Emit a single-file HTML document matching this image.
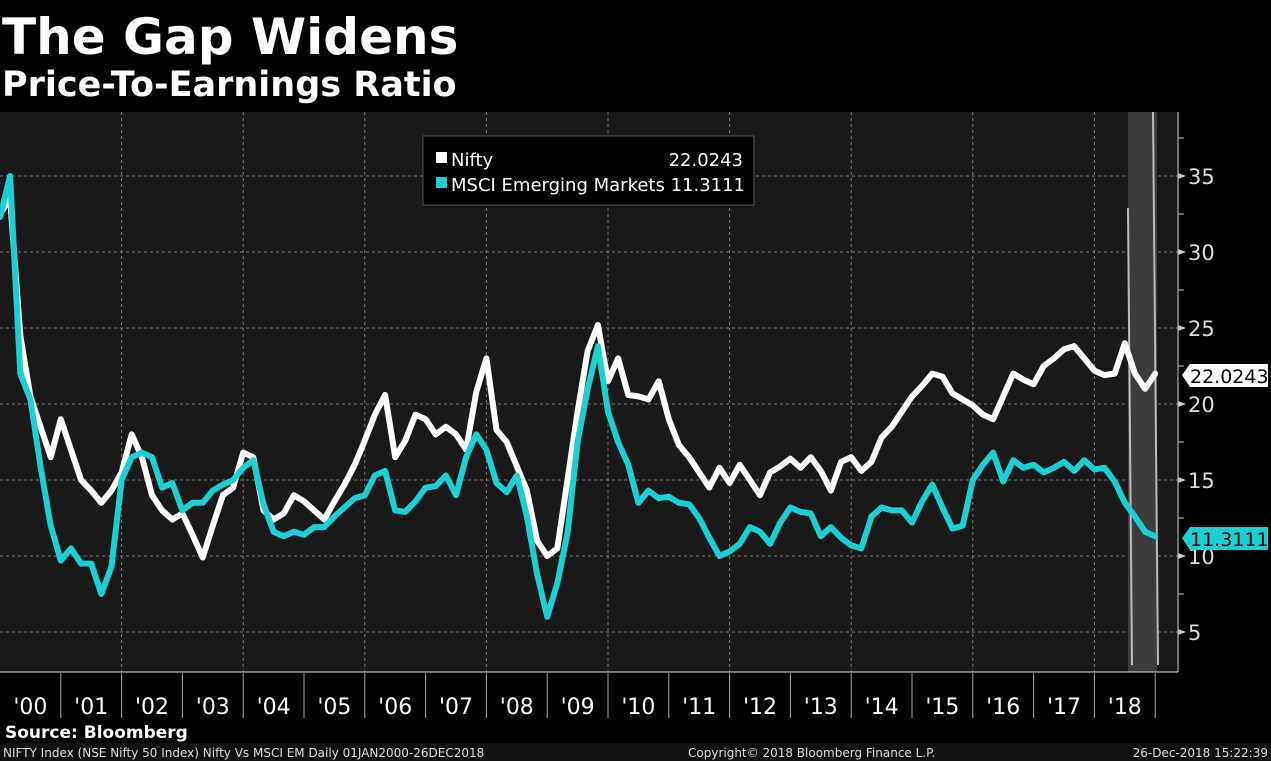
<!DOCTYPE html>
<html><head><meta charset="utf-8"><style>
body{margin:0;background:#000;width:1271px;height:761px;overflow:hidden;font-family:"DejaVu Sans","Liberation Sans",sans-serif;}
svg{display:block}
</style></head><body>
<svg id="chart" width="1271" height="761">
<rect x="0" y="0" width="1271" height="761" fill="#000"/>
<text x="2" y="54" fill="#fff" font-size="50" font-weight="bold" font-family="DejaVu Sans, sans-serif">The Gap Widens</text>
<text x="2" y="96" fill="#fff" font-size="35" font-weight="bold" font-family="DejaVu Sans, sans-serif">Price-To-Earnings Ratio</text>
<rect x="0" y="112" width="1178" height="560" fill="#191919"/>
<g id="grid"></g>
<rect x="1128" y="112" width="29" height="560" fill="#3c3c3c"/>
<line x1="1128" y1="208" x2="1132" y2="665" stroke="#bbb" stroke-width="2"/>
<line x1="1153" y1="112" x2="1158" y2="665" stroke="#bbb" stroke-width="2"/>
<g id="series"></g>
<line x1="1178" y1="112" x2="1178" y2="672" stroke="#ccc" stroke-width="1"/>
<g id="yaxis"></g>
<line x1="0" y1="672" x2="1178" y2="672" stroke="#ddd" stroke-width="1"/>
<g id="xaxis"></g>
<g>
<rect x="423" y="136" width="331" height="69" fill="#000" stroke="#555" stroke-width="1"/>
<rect x="436" y="152" width="11" height="11" fill="#fff"/>
<text x="451" y="166" fill="#fff" font-size="18" font-family="DejaVu Sans, sans-serif">Nifty</text>
<text x="743" y="166" fill="#fff" font-size="18" text-anchor="end" font-family="DejaVu Sans, sans-serif">22.0243</text>
<rect x="436" y="177" width="11" height="11" fill="#1ccfd2"/>
<text x="451" y="191" fill="#fff" font-size="18" font-family="DejaVu Sans, sans-serif">MSCI Emerging Markets 11.3111</text>
</g>
<g>
<polygon points="1182,375 1190,364 1268,364 1268,387 1190,387" fill="#fff"/>
<text x="1190" y="383" fill="#000" font-size="19" font-family="DejaVu Sans, sans-serif">22.0243</text>
</g>
<g>
<polygon points="1182,538 1190,527 1268,527 1268,550 1190,550" fill="#1ccfd2"/>
<text x="1190" y="546" fill="#000" font-size="19" font-family="DejaVu Sans, sans-serif">11.3111</text>
</g>
<text x="5" y="738" fill="#fff" font-size="17" font-weight="bold" font-family="DejaVu Sans, sans-serif">Source: Bloomberg</text>
<rect x="0" y="743" width="1271" height="18" fill="#111"/>
<text x="3" y="757" fill="#ddd" font-size="12" font-family="DejaVu Sans, sans-serif">NIFTY Index (NSE Nifty 50 Index) Nifty Vs MSCI EM  Daily 01JAN2000-26DEC2018</text>
<text x="688" y="757" fill="#ddd" font-size="12" font-family="DejaVu Sans, sans-serif">Copyright© 2018 Bloomberg Finance L.P.</text>
<text x="1268" y="757" fill="#ddd" font-size="12" text-anchor="end" font-family="DejaVu Sans, sans-serif">26-Dec-2018 15:22:39</text>
</svg>
<script>
const startYear = 2000;
const stepYears = 1/6;
const yearLabels = ["'00","'01","'02","'03","'04","'05","'06","'07","'08","'09","'10","'11","'12","'13","'14","'15","'16","'17","'18"];
const yTicks = [5,10,15,20,25,30,35];
const niftyValues = [32.5,33.5,24.5,20.5,18.5,16.5,19.0,17.0,15.0,14.3,13.5,14.3,15.5,18.0,16.5,14.0,13.0,12.4,12.8,11.4,9.9,12.0,14.0,14.5,16.8,16.5,13.0,12.4,12.8,14.0,13.6,13.0,12.4,13.6,14.7,16.0,17.6,19.3,20.6,16.5,17.6,19.3,19.0,18.0,18.5,18.0,17.0,20.8,23.0,18.3,17.5,15.9,14.3,11.0,10.0,10.5,15.0,19.5,23.5,25.2,21.5,23.0,20.6,20.5,20.3,21.5,19.0,17.3,16.5,15.5,14.5,15.8,14.8,16.0,15.0,14.0,15.5,15.9,16.4,15.8,16.5,15.6,14.3,16.2,16.5,15.6,16.2,17.8,18.5,19.5,20.5,21.2,22.0,21.8,20.7,20.3,19.9,19.3,19.0,20.5,22.0,21.6,21.3,22.5,23.0,23.6,23.8,23.0,22.2,21.9,22.0,24.0,22.0,21.0,22.0];
const msciValues = [32.3,35.0,22.0,20.3,15.9,12.0,9.7,10.5,9.5,9.5,7.5,9.3,15.0,16.5,16.8,16.5,14.5,14.8,13.0,13.5,13.5,14.3,14.7,15.0,15.8,16.3,13.4,11.6,11.3,11.6,11.4,11.9,11.9,12.6,13.2,13.8,14.0,15.3,15.6,13.0,12.9,13.6,14.5,14.6,15.3,14.0,16.5,18.0,17.0,14.8,14.2,15.3,12.6,8.8,6.0,8.2,11.5,17.5,21.0,23.8,19.5,17.5,16.0,13.5,14.3,13.8,13.9,13.5,13.4,12.5,11.2,10.0,10.3,10.8,11.9,11.6,10.8,12.2,13.2,12.9,12.8,11.3,11.9,11.2,10.7,10.5,12.6,13.2,13.0,13.0,12.2,13.6,14.7,13.2,11.8,12.0,15.0,16.0,16.8,14.9,16.3,15.8,16.0,15.5,15.8,16.2,15.6,16.3,15.7,15.8,14.9,13.5,12.6,11.6,11.3];

const NS = "http://www.w3.org/2000/svg";
const xOf = yr => (yr - 2000) * 60.8;
const yOf = v => 176 + (35 - v) * 15.2;
function mk(tag, attrs, parent){const e=document.createElementNS(NS,tag);for(const k in attrs)e.setAttribute(k,attrs[k]);parent.appendChild(e);return e;}

const grid = document.getElementById('grid');
yTicks.forEach(v=>{
  const l = mk('line',{x1:0,x2:1178,y1:yOf(v),y2:yOf(v),stroke:'#777','stroke-width':1,'stroke-dasharray':'3,3'},grid);
  
  
});
for(let k=2;k<=18;k+=2){
  const l = mk('line',{x1:xOf(2000+k),x2:xOf(2000+k),y1:112,y2:672,stroke:'#777','stroke-width':1,'stroke-dasharray':'3,3'},grid);
  
  
}

const yaxis = document.getElementById('yaxis');
yTicks.forEach(v=>{
  const t = mk('polygon',{points:`1178,${yOf(v)-3} 1186,${yOf(v)} 1178,${yOf(v)+3}`,fill:'#ccc'},yaxis);
  
  
  const m = mk('line',{x1:1178,x2:1184,y1:yOf(v+2.5),y2:yOf(v+2.5),stroke:'#ccc'},yaxis);
  
  
  const tx = mk('text',{x:1188,y:yOf(v)+8,fill:'#ddd','font-size':21,'font-family':'DejaVu Sans, sans-serif'},yaxis);
  tx.textContent = v;
  
  
});

const xaxis = document.getElementById('xaxis');
yearLabels.forEach((lab,i)=>{
  const x0 = xOf(startYear+i), x1 = xOf(startYear+i+1);
  const s = mk('line',{x1:x1,x2:x1,y1:673,y2:718,stroke:'#aaa','stroke-width':1},xaxis);
  
  
  const t = mk('text',{x:(x0+x1)/2,y:714,fill:'#fff','font-size':22,'text-anchor':'middle','font-family':'DejaVu Sans, sans-serif'},xaxis);
  t.textContent = lab;
  
  
});

const series = document.getElementById('series');
function draw(vals,color,name){
  const pts = vals.map((v,i)=>xOf(startYear+i*stepYears).toFixed(1)+','+yOf(v).toFixed(1)).join(' ');
  const p = mk('polyline',{points:pts,fill:'none',stroke:color,'stroke-width':6,'stroke-linejoin':'round','stroke-linecap':'round'},series);
  
  
}
draw(niftyValues,'#ffffff','nifty-line');
draw(msciValues,'#1ccfd2','msci-em-line');
</script>
</body></html>
